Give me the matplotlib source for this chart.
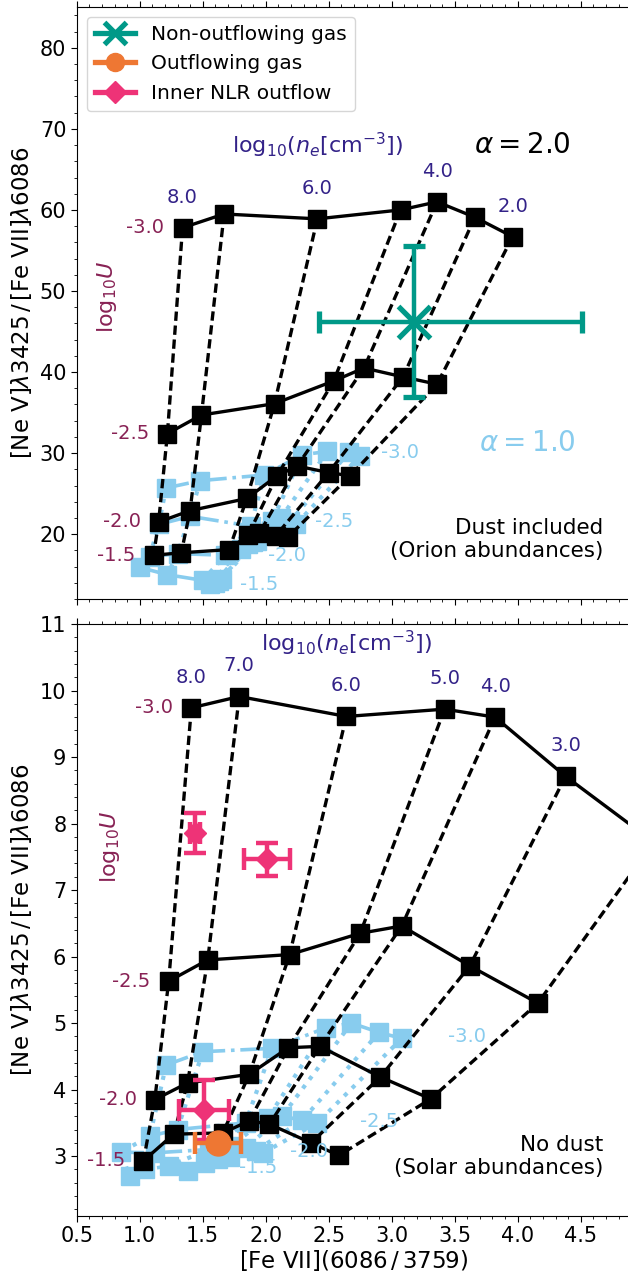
import numpy as np
import matplotlib
matplotlib.use("Agg")
import matplotlib.pyplot as plt
from matplotlib.lines import Line2D
from matplotlib.ticker import MultipleLocator

# Paul Tol palette
INDIGO = "#332288"
WINE = "#882255"
CYAN = "#88CCEE"
TEAL = "#009988"
ORANGE = "#EE7733"
MAGENTA = "#EE3377"

# Model grid axes
log_ne = [8.0, 7.0, 6.0, 5.0, 4.0, 3.0, 2.0]
log_U = [-3.0, -2.5, -2.0, -1.5]

# Dust included (Orion abundances); rows follow log_U, columns follow log_ne
dust_a2_fe = [[1.34, 1.67, 2.41, 3.07, 3.36, 3.66, 3.96],
              [1.22, 1.49, 2.07, 2.54, 2.78, 3.09, 3.36],
              [1.15, 1.40, 1.85, 2.09, 2.25, 2.50, 2.67],
              [1.11, 1.33, 1.71, 1.86, 1.95, 2.08, 2.18]]
dust_a2_ne = [[57.8, 59.5, 58.9, 60.0, 61.0, 59.1, 56.7],
              [32.4, 34.7, 36.1, 38.9, 40.5, 39.4, 38.5],
              [21.5, 22.9, 24.4, 27.2, 28.4, 27.6, 27.2],
              [17.4, 17.7, 18.1, 19.9, 20.1, 19.8, 19.7]]
dust_a1_fe = [[1.21, 1.48, 1.99, 2.29, 2.49, 2.66, 2.75],
              [1.15, 1.40, 1.88, 2.05, 2.12, 2.19, 2.24],
              [1.08, 1.30, 1.68, 1.80, 1.86, 1.90, 1.93],
              [1.00, 1.22, 1.50, 1.56, 1.60, 1.63, 1.65]]
dust_a1_ne = [[25.7, 26.6, 27.3, 29.8, 30.2, 30.1, 29.7],
              [21.2, 22.2, 21.0, 21.6, 22.0, 21.5, 21.2],
              [17.2, 17.6, 17.4, 18.2, 18.8, 19.0, 19.2],
              [15.9, 15.0, 14.3, 13.8, 14.0, 14.2, 14.5]]

# No dust (solar abundances)
nodust_a2_fe = [[1.41, 1.79, 2.64, 3.42, 3.82, 4.38, 5.08],
                [1.23, 1.54, 2.19, 2.75, 3.08, 3.62, 4.16],
                [1.12, 1.38, 1.87, 2.18, 2.43, 2.91, 3.31],
                [1.03, 1.27, 1.66, 1.87, 2.03, 2.36, 2.58]]
nodust_a2_ne = [[9.74, 9.91, 9.61, 9.72, 9.60, 8.71, 7.72],
                [5.63, 5.95, 6.03, 6.35, 6.46, 5.86, 5.30],
                [3.85, 4.10, 4.23, 4.63, 4.65, 4.19, 3.86],
                [2.93, 3.33, 3.35, 3.53, 3.48, 3.20, 3.01]]
nodust_a1_fe = [[1.21, 1.50, 2.05, 2.48, 2.68, 2.90, 3.08],
                [1.08, 1.30, 1.84, 2.02, 2.13, 2.29, 2.41],
                [0.85, 1.12, 1.55, 1.72, 1.84, 1.92, 1.98],
                [0.92, 1.04, 1.23, 1.38, 1.52, 1.62, 1.72]]
nodust_a1_ne = [[4.37, 4.57, 4.62, 4.93, 5.00, 4.86, 4.77],
                [3.30, 3.40, 3.50, 3.58, 3.60, 3.54, 3.50],
                [3.06, 3.05, 3.10, 3.15, 3.12, 3.08, 3.05],
                [2.70, 2.80, 2.85, 2.78, 2.90, 2.95, 2.98]]

# Measurements
nonout_fe, nonout_fe_lo, nonout_fe_hi = 3.18, 0.76, 1.33
nonout_ne, nonout_ne_lo, nonout_ne_hi = 46.2, 9.3, 9.4

out_fe, out_fe_err = 1.62, 0.18
out_ne, out_ne_err = 3.19, 0.08

inner_fe = [1.44, 2.01, 1.51]
inner_fe_err = [0.04, 0.18, 0.20]
inner_ne = [7.86, 7.46, 3.70]
inner_ne_err = [0.30, 0.245, 0.45]

# Density labels shown in each panel
top_ne_labels = [8.0, 6.0, 4.0, 2.0]
bot_ne_labels = [8.0, 7.0, 6.0, 5.0, 4.0, 3.0]

TICK_FS = 15
LABEL_FS = 16.5

plt.rcParams["font.family"] = ["DejaVu Sans"]
plt.rcParams["mathtext.fontset"] = "dejavusans"

fig = plt.figure(figsize=(6.28, 12.76), dpi=100)
W, H = 628.0, 1276.0
left = 76.7 / W
width = (631.1 - 76.7) / W
ax_top = fig.add_axes([left, (H - 599) / H, width, 591.7 / H])
ax_bot = fig.add_axes([left, (H - 1216) / H, width, 592.0 / H], sharex=ax_top)


def draw_grid(ax, gx, gy, color, row_ls, col_style, row_lw, col_lw, ms, z):
    gx = np.asarray(gx)
    gy = np.asarray(gy)
    for j in range(gx.shape[1]):
        ax.plot(gx[:, j], gy[:, j], color=color, lw=col_lw, zorder=z, **col_style)
    for i in range(gx.shape[0]):
        ax.plot(gx[i], gy[i], ls=row_ls, color=color, lw=row_lw, marker="s",
                ms=ms, mec=color, mfc=color, zorder=z + 0.5)


def label_grid(ax, gx, gy, shown):
    gx = np.asarray(gx)
    gy = np.asarray(gy)
    for val in shown:
        j = log_ne.index(val)
        ax.annotate(f"{val:.1f}", (gx[0, j], gy[0, j]), xytext=(0, 22),
                    textcoords="offset points", ha="center", va="center",
                    color=INDIGO, fontsize=14, zorder=8)
    for i, u in enumerate(log_U):
        ax.annotate(f"{u:.1f}", (gx[i, 0], gy[i, 0]), xytext=(-13, 0),
                    textcoords="offset points", ha="right", va="center",
                    color=WINE, fontsize=14, zorder=8)


def label_rows_right(ax, gx, gy, offsets):
    gx = np.asarray(gx)
    gy = np.asarray(gy)
    for i, u in enumerate(log_U):
        ax.annotate(f"{u:.1f}", (gx[i, -1], gy[i, -1]), xytext=offsets[i],
                    textcoords="offset points", ha="left", va="center",
                    color=CYAN, fontsize=14, zorder=8)


dashed = dict(ls="--", dashes=(2.8, 1.4))
dotted = dict(ls=":")

# ---- top panel: dust included ----
draw_grid(ax_top, dust_a1_fe, dust_a1_ne, CYAN, "-.", dotted, 2.6, 3.0, 13.5, 2)
draw_grid(ax_top, dust_a2_fe, dust_a2_ne, "black", "-", dashed, 2.4, 2.4, 13, 4)
label_grid(ax_top, dust_a2_fe, dust_a2_ne, top_ne_labels)
label_rows_right(ax_top, dust_a1_fe, dust_a1_ne,
                 [(15, 2), (14, 2), (8, -11), (13, -4)])

ax_top.errorbar(nonout_fe, nonout_ne,
                xerr=[[nonout_fe_lo], [nonout_fe_hi]],
                yerr=[[nonout_ne_lo], [nonout_ne_hi]],
                fmt="x", color=TEAL, ms=23, mew=3.8, elinewidth=3.2,
                capsize=8, capthick=3.2, zorder=7)

ax_top.text(2.41, 68.0, r"log$_{10}$($n_e$[cm$^{-3}$])", color=INDIGO,
            fontsize=16, ha="center", va="center")
ax_top.text(4.04, 68.0, r"$\alpha = 2.0$", color="black", fontsize=20,
            ha="center", va="center")
ax_top.text(4.08, 31.3, r"$\alpha = 1.0$", color=CYAN, fontsize=20,
            ha="center", va="center")
ax_top.text(0.74, 49.3, r"log$_{10}U$", color=WINE, fontsize=16,
            rotation=90, ha="center", va="center")
ax_top.text(0.95, 0.1, "Dust included\n(Orion abundances)",
            transform=ax_top.transAxes, ha="right", va="center",
            multialignment="right", fontsize=15.5)

handles = [
    Line2D([], [], color=TEAL, marker="x", ms=16, mew=3.8, lw=3.8),
    Line2D([], [], color=ORANGE, marker="o", ms=13, lw=3.8),
    Line2D([], [], color=MAGENTA, marker="D", ms=11, lw=3.8),
]
ax_top.legend(handles, ["Non-outflowing gas", "Outflowing gas", "Inner NLR outflow"],
              loc="upper left", fontsize=14.5)

ax_top.set_ylim(12, 85)
ax_top.yaxis.set_major_locator(MultipleLocator(10))
ax_top.yaxis.set_minor_locator(MultipleLocator(2))

# ---- bottom panel: no dust ----
draw_grid(ax_bot, nodust_a1_fe, nodust_a1_ne, CYAN, "-.", dotted, 2.6, 3.0, 13.5, 2)
draw_grid(ax_bot, nodust_a2_fe, nodust_a2_ne, "black", "-", dashed, 2.4, 2.4, 13, 4)
label_grid(ax_bot, nodust_a2_fe, nodust_a2_ne, bot_ne_labels)
label_rows_right(ax_bot, nodust_a1_fe, nodust_a1_ne,
                 [(33, 1.5), (31, 1), (19, 1), (6.5, -7.5)])

ax_bot.errorbar(inner_fe, inner_ne, xerr=inner_fe_err, yerr=inner_ne_err,
                fmt="D", color=MAGENTA, ms=11.5, elinewidth=3.2, capsize=8,
                capthick=3.2, zorder=7)
ax_bot.errorbar(out_fe, out_ne, xerr=out_fe_err, yerr=out_ne_err,
                fmt="o", color=ORANGE, ms=18, elinewidth=3.2, capsize=8,
                capthick=3.2, zorder=7)

ax_bot.text(2.64, 10.71, r"log$_{10}$($n_e$[cm$^{-3}$])", color=INDIGO,
            fontsize=16, ha="center", va="center")
ax_bot.text(0.765, 7.65, r"log$_{10}U$", color=WINE, fontsize=16,
            rotation=90, ha="center", va="center")
ax_bot.text(0.95, 0.1, "No dust\n(Solar abundances)",
            transform=ax_bot.transAxes, ha="right", va="center",
            multialignment="right", fontsize=15.5)

ax_bot.set_ylim(2.1, 11)
ax_bot.yaxis.set_major_locator(MultipleLocator(1))
ax_bot.yaxis.set_minor_locator(MultipleLocator(0.2))

ax_bot.set_xlim(0.5, 4.9)
ax_bot.xaxis.set_major_locator(MultipleLocator(0.5))
ax_bot.xaxis.set_minor_locator(MultipleLocator(0.1))
ax_bot.set_xlabel(r"[Fe VII](6086$\,/\,$3759)", fontsize=LABEL_FS, labelpad=1)

ylab = r"[Ne V]$\lambda$3425$\,/\,$[Fe VII]$\lambda$6086"
for ax in (ax_top, ax_bot):
    ax.set_ylabel(ylab, fontsize=LABEL_FS)
    ax.tick_params(which="both", direction="out", top=True, right=True,
                   labelsize=TICK_FS)
    ax.tick_params(which="major", length=4)
    ax.tick_params(which="minor", length=2.5)
ax_top.tick_params(labelbottom=False)

fig.savefig("out.png", dpi=100)
